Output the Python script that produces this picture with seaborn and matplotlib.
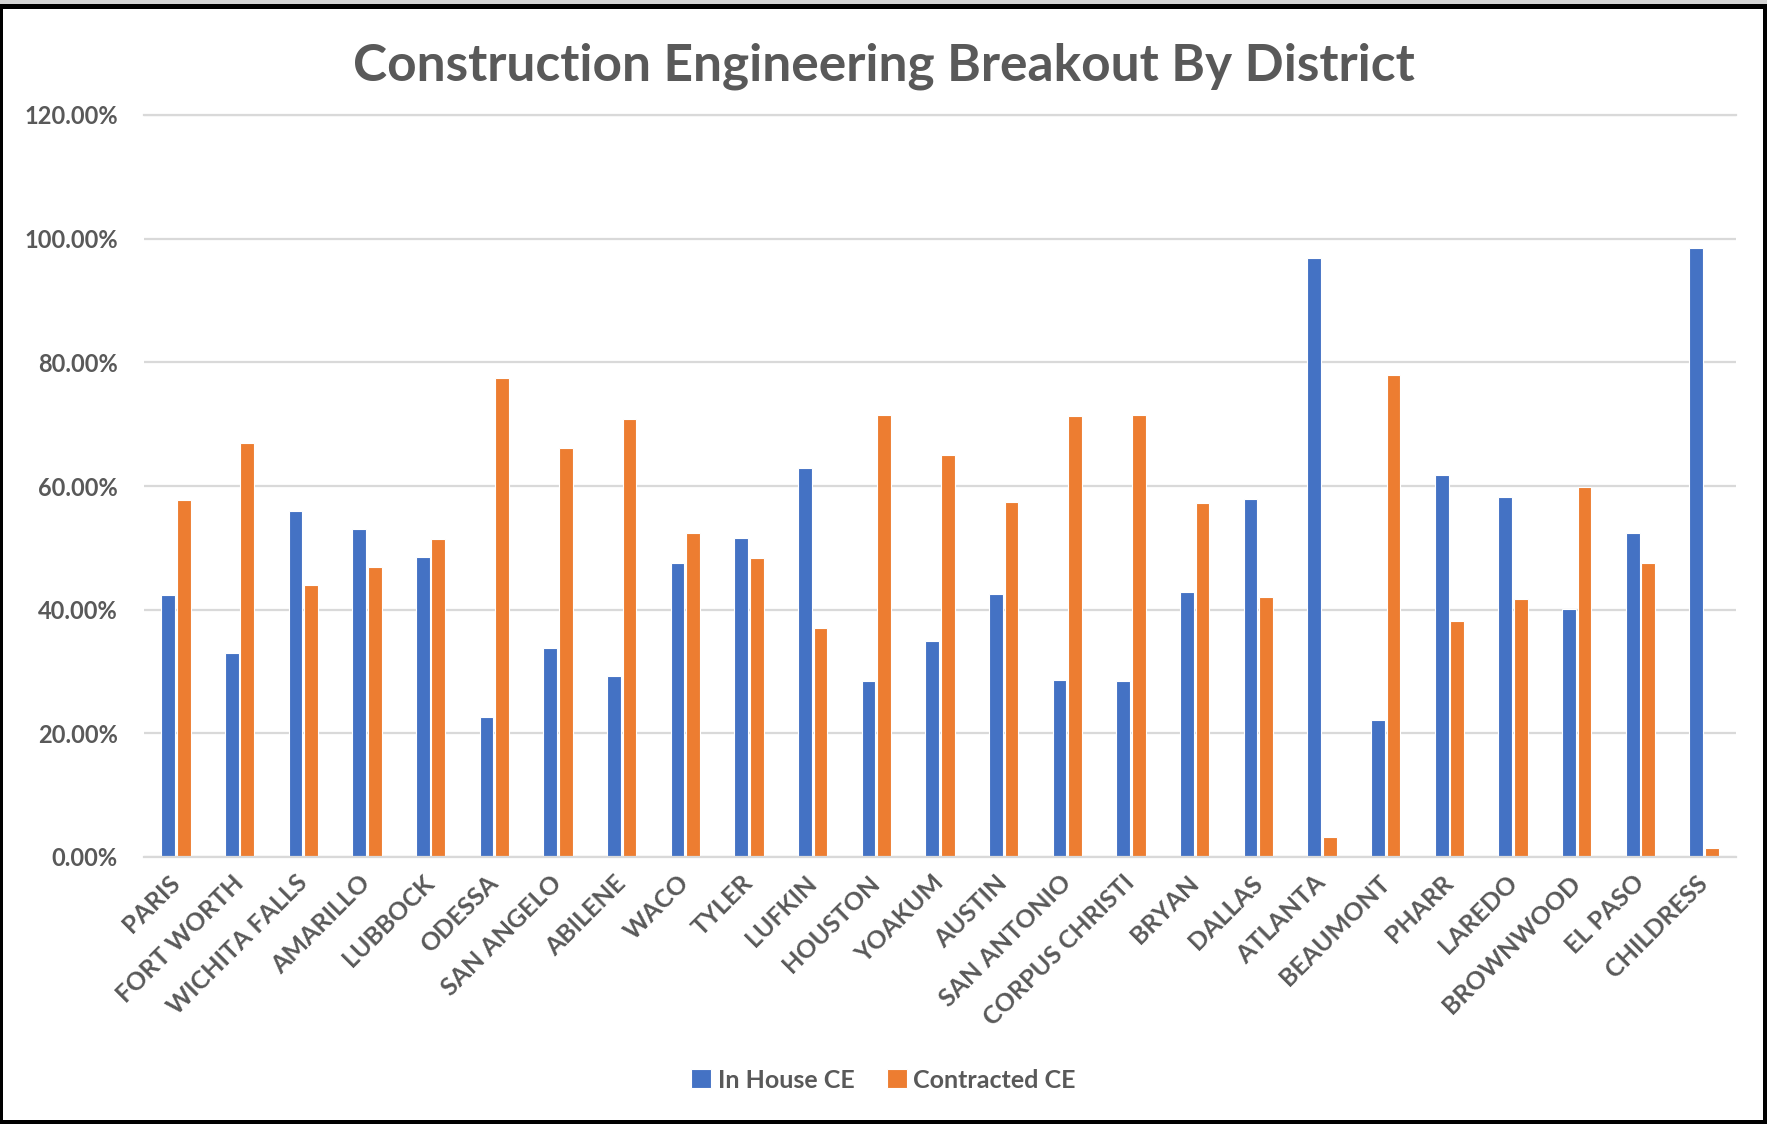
import matplotlib
matplotlib.use("Agg")
import matplotlib.pyplot as plt
from matplotlib.patches import Rectangle
from matplotlib.ticker import FuncFormatter, MultipleLocator
import pandas as pd
import seaborn as sns

# Share of construction engineering work per district, in percent
districts = [
    "PARIS", "FORT WORTH", "WICHITA FALLS", "AMARILLO", "LUBBOCK", "ODESSA",
    "SAN ANGELO", "ABILENE", "WACO", "TYLER", "LUFKIN", "HOUSTON", "YOAKUM",
    "AUSTIN", "SAN ANTONIO", "CORPUS CHRISTI", "BRYAN", "DALLAS", "ATLANTA",
    "BEAUMONT", "PHARR", "LAREDO", "BROWNWOOD", "EL PASO", "CHILDRESS",
]
in_house = [
    42.3, 33.0, 56.0, 53.1, 48.5, 22.6, 33.8, 29.2, 47.6, 51.6, 62.9, 28.5, 35.0,
    42.6, 28.7, 28.5, 42.8, 57.9, 96.8, 22.1, 61.8, 58.2, 40.1, 52.4, 98.5,
]
contracted = [
    57.7, 67.0, 44.0, 46.9, 51.5, 77.4, 66.2, 70.8, 52.4, 48.4, 37.1, 71.5, 65.0,
    57.4, 71.3, 71.5, 57.2, 42.1, 3.2, 77.9, 38.2, 41.8, 59.9, 47.6, 1.5,
]
series_names = ["In House CE", "Contracted CE"]
chart_title = "Construction Engineering Breakout By District"

BLUE = "#4472C4"
ORANGE = "#ED7D31"
TEXT = "#595959"
GRID = "#D9D9D9"

df = pd.DataFrame({
    "District": districts * 2,
    "Share": in_house + contracted,
    "Type": [series_names[0]] * len(districts) + [series_names[1]] * len(districts),
})

sns.set_theme(style="white")
plt.rcParams["font.family"] = ["Lato", "DejaVu Sans"]
plt.rcParams["font.weight"] = "bold"

W, H = 1767, 1124
fig = plt.figure(figsize=(W / 100, H / 100), dpi=100)
fig.patch.set_facecolor("white")

ax = fig.add_axes([144 / W, 1 - 857 / H, (1736 - 144) / W, (857 - 115) / H])
sns.barplot(
    data=df, x="District", y="Share", hue="Type", order=districts,
    hue_order=series_names, palette=[BLUE, ORANGE], saturation=1,
    width=0.49, gap=0.12, edgecolor="white", linewidth=0.8,
    ax=ax, errorbar=None, legend=True,
)

ax.set_xlim(-0.5, len(districts) - 0.5)
ax.set_ylim(0, 120)
ax.yaxis.set_major_locator(MultipleLocator(20))
ax.yaxis.set_major_formatter(FuncFormatter(lambda v, _: f"{v:.2f}%"))
ax.set_axisbelow(True)
ax.yaxis.grid(True, color=GRID, linewidth=1.6)
ax.xaxis.grid(False)
for side in ("left", "right"):
    ax.spines[side].set_visible(False)
for side in ("top", "bottom"):
    ax.spines[side].set_color(GRID)
    ax.spines[side].set_linewidth(1.6)
ax.set_xlabel("")
ax.set_ylabel("")

ax.tick_params(axis="y", length=0, pad=19, labelsize=17, labelcolor=TEXT)
ax.tick_params(axis="x", length=0, pad=16, labelsize=18, labelcolor=TEXT)
for lbl in ax.get_yticklabels():
    lbl.set_fontweight("bold")
for lbl in ax.get_xticklabels():
    lbl.set_fontweight("bold")
    lbl.set_rotation(45)
    lbl.set_ha("right")
    lbl.set_va("center")
    lbl.set_rotation_mode("anchor")

fig.text(0.5, 1 - 66 / H, chart_title, ha="center", va="center",
         fontsize=37, fontweight="bold", color=TEXT)

ax.get_legend().remove()
handles, labels = ax.get_legend_handles_labels()
fig.legend(
    handles, labels, loc="center", bbox_to_anchor=(0.5, 1 - 1080 / H),
    ncol=2, frameon=False, handlelength=0.8, handleheight=0.8,
    handletextpad=0.25, columnspacing=1.3,
    prop={"size": 18, "weight": "bold"}, labelcolor=TEXT,
)

# Outer frame of the chart area
fig.patches.append(Rectangle((0, 1 - 4 / H), 1, 4 / H, transform=fig.transFigure,
                             facecolor="#D4D4D4", edgecolor="none", zorder=10))
fig.patches.append(Rectangle((0, 1 - 9 / H), 1, 5 / H, transform=fig.transFigure,
                             facecolor="black", edgecolor="none", zorder=10))
fig.patches.append(Rectangle((0, 0), 3 / W, 1 - 4 / H, transform=fig.transFigure,
                             facecolor="black", edgecolor="none", zorder=10))
fig.patches.append(Rectangle((1 - 4 / W, 0), 4 / W, 1 - 4 / H, transform=fig.transFigure,
                             facecolor="black", edgecolor="none", zorder=10))
fig.patches.append(Rectangle((0, 0), 1, 4 / H, transform=fig.transFigure,
                             facecolor="black", edgecolor="none", zorder=10))

fig.savefig("out.png", dpi=100, facecolor="white")
